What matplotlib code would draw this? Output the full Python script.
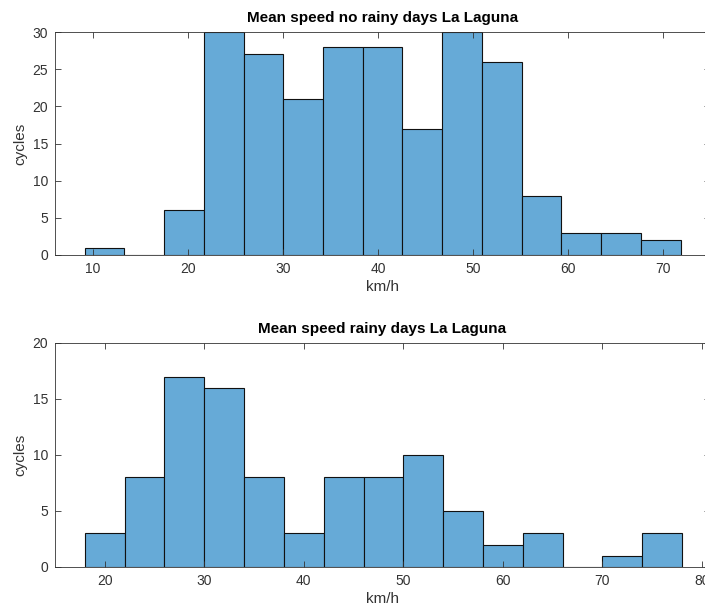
import numpy as np
import matplotlib
matplotlib.use('Agg')
import matplotlib.pyplot as plt

# counts
dry_counts = [1, 0, 6, 30, 27, 21, 28, 28, 17, 30, 26, 8, 3, 3, 2]
dry_edges = np.linspace(9.12, 71.8, 16)
rain_counts = [3, 8, 17, 16, 8, 3, 8, 8, 10, 5, 2, 3, 0, 1, 3]
rain_edges = np.arange(18, 79, 4)

dry_xticks = [10, 20, 30, 40, 50, 60, 70]
rain_xticks = [20, 30, 40, 50, 60, 70, 80]

bar_color = (0.4, 0.668, 0.845)
axis_gray = '#333333'

plt.rcParams['font.family'] = ['Liberation Sans', 'DejaVu Sans']

W, H = 705, 611
fig = plt.figure(figsize=(W / 100, H / 100), dpi=100)


# draw one matlab-like histogram panel
def panel(box, counts, edges, xlim, ylim, xticks, title):
    l, t, r, b = box
    ax = fig.add_axes([l / W, 1 - b / H, (r - l) / W, (b - t) / H])
    ax.bar(edges[:-1], counts, width=np.diff(edges), align='edge',
           color=bar_color, edgecolor='#111111', linewidth=0.8)
    ax.set_xlim(xlim)
    ax.set_ylim(ylim)
    ax.set_xticks(xticks)
    ax.set_yticks(np.arange(ylim[0], ylim[1] + 1, 5))
    ax.tick_params(direction='in', top=True, right=True, length=4.5,
                   labelsize=10, colors=axis_gray, width=0.6, pad=5)
    for s in ax.spines.values():
        s.set_color(axis_gray)
        s.set_linewidth(0.6)
    ax.set_title(title, fontsize=11, fontweight='bold', pad=7)
    ax.set_xlabel('km/h', fontsize=11, color=axis_gray, labelpad=3)
    ax.set_ylabel('cycles', fontsize=11, color=axis_gray, labelpad=4)
    return ax


panel((55, 32, 710, 255), dry_counts, dry_edges, (6, 74.9), (0, 30),
      dry_xticks, 'Mean speed no rainy days La Laguna')
panel((55, 343, 710, 567), rain_counts, rain_edges, (15, 80.8), (0, 20),
      rain_xticks, 'Mean speed rainy days La Laguna')

fig.savefig('out.png', dpi=100)
